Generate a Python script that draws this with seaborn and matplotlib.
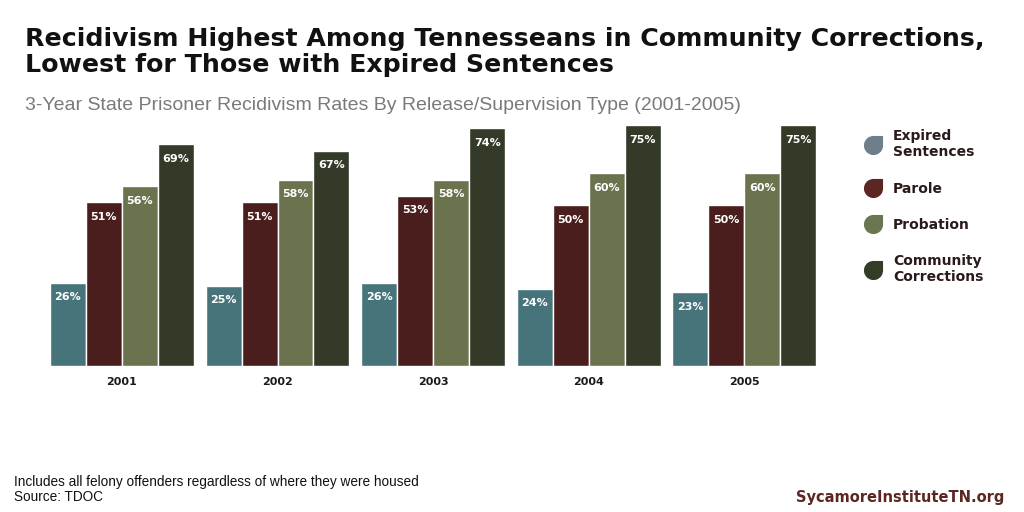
"""
Tennessee recidivism rates by release/supervision type, 2001-2005.
"""

import numpy as np
import pandas as pd
import matplotlib
matplotlib.use("Agg")
import matplotlib.pyplot as plt
from matplotlib.path import Path
from matplotlib.lines import Line2D
import seaborn as sns


# ──────────────────────────────────────────────
# Data
# ──────────────────────────────────────────────

years = ["2001", "2002", "2003", "2004", "2005"]
types = ["Expired Sentences", "Parole", "Probation", "Community Corrections"]
legend_labels = ["Expired\nSentences", "Parole", "Probation", "Community\nCorrections"]

expired = [26, 25, 26, 24, 23]
parole = [51, 51, 53, 50, 50]
probation = [56, 58, 58, 60, 60]
community = [69, 67, 74, 75, 75]

bar_colors = ["#47737a", "#4a1e1c", "#6a724e", "#333a27"]
legend_colors = ["#6e7e8a", "#5a2722", "#6a7650", "#343b27"]

df = pd.DataFrame({
    "year": years * 4,
    "type": np.repeat(types, len(years)),
    "rate": expired + parole + probation + community,
})


# ──────────────────────────────────────────────
# Teardrop marker for the legend
# ──────────────────────────────────────────────

def teardrop_marker():
    arc = Path.arc(90, 360)
    verts = list(arc.vertices) + [(1, 1), (0, 1), (0, 1)]
    codes = list(arc.codes) + [Path.LINETO, Path.LINETO, Path.CLOSEPOLY]
    return Path(verts, codes)


# ──────────────────────────────────────────────
# Plot
# ──────────────────────────────────────────────

sns.set_theme(style="white")
plt.rcParams["font.family"] = ["DejaVu Sans"]

fig = plt.figure(figsize=(10.24, 5.12), dpi=100)
ax = fig.add_axes([0.043, 0.285, 0.760, 0.502])

sns.barplot(data=df, x="year", y="rate", hue="type", hue_order=types,
            palette=bar_colors, width=0.925, edgecolor="white", linewidth=1,
            saturation=1, legend=False, ax=ax)

for cont in ax.containers:
    ax.bar_label(cont, fmt="%d%%", padding=-14, color="white",
                 fontsize=8, fontweight="bold")

ax.set_xlim(-0.5, 4.5)
ax.set_ylim(0, 80)
ax.set_xlabel("")
ax.set_ylabel("")
ax.set_yticks([])
ax.tick_params(axis="x", length=0, pad=8)
for lbl in ax.get_xticklabels():
    lbl.set_fontweight("bold")
    lbl.set_fontsize(8)
    lbl.set_color("#1a1a1a")
sns.despine(ax=ax, left=True, bottom=True)

# legend
marker = teardrop_marker()
handles = [Line2D([], [], marker=marker, linestyle="none", markersize=13,
                  markerfacecolor=c, markeredgecolor=c) for c in legend_colors]
fig.legend(handles, legend_labels, loc="upper left", bbox_to_anchor=(0.834, 0.772),
           frameon=False, handlelength=1.0, handletextpad=0.9, labelspacing=1.6,
           prop={"weight": "bold", "size": 10}, labelcolor="#2a1a1a")

# titles and notes
fig.text(0.024, 0.85, "Recidivism Highest Among Tennesseans in Community Corrections,\n"
         "Lowest for Those with Expired Sentences",
         fontsize=18.2, fontweight="bold", color="#111111", va="bottom",
         linespacing=1.08)
fig.text(0.024, 0.785, "3-Year State Prisoner Recidivism Rates By Release/Supervision Type (2001-2005)",
         fontsize=14, color="#7a7a7a", family="Liberation Sans")
fig.text(0.014, 0.021, "Includes all felony offenders regardless of where they were housed\nSource: TDOC",
         fontsize=9.8, color="#111111", family="Liberation Sans", linespacing=1.1)
fig.text(0.981, 0.02, "SycamoreInstituteTN.org", fontsize=10.5, fontweight="bold",
         color="#5a2722", ha="right")

fig.savefig("out.png", dpi=100)
